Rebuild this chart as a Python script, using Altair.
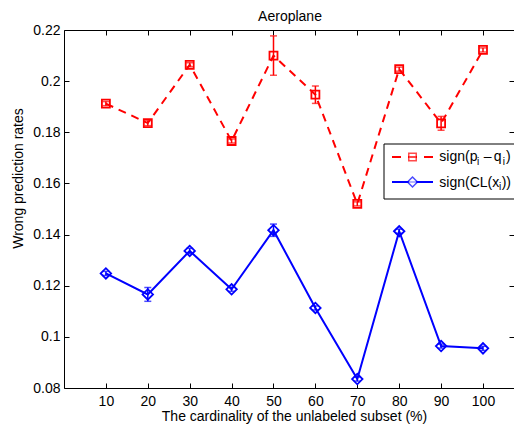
import altair as alt
import pandas as pd

# ---- data ----
subset = [10, 20, 30, 40, 50, 60, 70, 80, 90, 100]
sign_pq = [0.1912, 0.1836, 0.2064, 0.1766, 0.2100, 0.1947, 0.1520, 0.2047, 0.1835, 0.2122]
sign_pq_err = [0.0008, 0.0010, 0.0008, 0.0008, 0.0077, 0.0034, 0.0008, 0.0008, 0.0027, 0.0008]
sign_cl = [0.1248, 0.1166, 0.1336, 0.1186, 0.1417, 0.1113, 0.0835, 0.1413, 0.0964, 0.0955]
sign_cl_err = [0.0008, 0.0027, 0.0010, 0.0008, 0.0024, 0.0008, 0.0008, 0.0008, 0.0008, 0.0008]

x_ticks = [10, 20, 30, 40, 50, 60, 70, 80, 90, 100]
y_ticks = [0.08, 0.10, 0.12, 0.14, 0.16, 0.18, 0.20, 0.22]

title_text = "Aeroplane"
x_title = "The cardinality of the unlabeled subset (%)"
y_title = "Wrong prediction rates"

RED = "#ff0000"
BLUE = "#0000ff"
FONT = "Liberation Sans"
FS = 14

df_red = pd.DataFrame({
    "x": subset, "y": sign_pq,
    "lo": [v - e for v, e in zip(sign_pq, sign_pq_err)],
    "hi": [v + e for v, e in zip(sign_pq, sign_pq_err)],
})
df_blue = pd.DataFrame({
    "x": subset, "y": sign_cl,
    "lo": [v - e for v, e in zip(sign_cl, sign_cl_err)],
    "hi": [v + e for v, e in zip(sign_cl, sign_cl_err)],
})

W, H = 450, 358
xs = alt.Scale(domain=[0, 107.4], nice=False, zero=False)
ys = alt.Scale(domain=[0.08, 0.22], nice=False, zero=False)


def X(field="x", axis=None):
    return alt.X(f"{field}:Q", scale=xs, axis=axis)


def Y(field="y", axis=None):
    return alt.Y(f"{field}:Q", scale=ys, axis=axis)


# ---- axis layers (frame, labels, inward ticks) ----
frame = alt.Chart(df_red).mark_point(opacity=0).encode(
    x=X(axis=alt.Axis(orient="bottom", values=x_ticks, ticks=False, tickSize=0,
                      domain=True, domainColor="black", domainWidth=1, grid=False,
                      labelFontSize=FS, labelPadding=17, labelBaseline="alphabetic",
                      labelOverlap=False, labelFlush=False,
                      title=x_title, titleFontSize=FS, titleFontWeight="normal",
                      titleX=230, titleY=32, titleBaseline="alphabetic", titleAlign="center")),
    y=Y(axis=alt.Axis(orient="left", values=y_ticks, format="~g", ticks=False, tickSize=0,
                      domain=True, domainColor="black", domainWidth=1, grid=False,
                      labelFontSize=FS, labelPadding=4, labelOverlap=False,
                      title=y_title, titleFontSize=FS, titleFontWeight="normal",
                      titleX=-46, titleY=148, titleAngle=270,
                      titleBaseline="middle", titleAlign="center")),
)

ticks_bl = alt.Chart(df_red).mark_point(opacity=0).encode(
    x=X(axis=alt.Axis(orient="bottom", values=x_ticks, offset=-5, tickSize=5, tickColor="black",
                      labels=False, domain=False, grid=False, title="")),
    y=Y(axis=alt.Axis(orient="left", values=y_ticks, offset=-5, tickSize=5, tickColor="black",
                      labels=False, domain=False, grid=False, title="")),
)

ticks_tr = alt.Chart(df_red).mark_point(opacity=0).encode(
    x=X(axis=alt.Axis(orient="top", values=x_ticks, offset=0, ticks=False, tickSize=0,
                      labels=False, domain=True, domainColor="black", grid=False, title="")),
    y=Y(axis=alt.Axis(orient="right", values=y_ticks, offset=-5, tickSize=5, tickColor="black",
                      labels=False, domain=False, grid=False, title="")),
)

ticks_top = alt.Chart(df_red).mark_point(opacity=0).encode(
    x=X(axis=alt.Axis(orient="top", values=x_ticks, offset=-5, tickSize=5, tickColor="black",
                      labels=False, domain=False, grid=False, title="")),
    y=Y(),
)


# ---- data layers ----
def series(df, color, dash, shape, size):
    line_kw = dict(color=color, strokeWidth=2)
    if dash:
        line_kw["strokeDash"] = dash
    line = alt.Chart(df).mark_line(**line_kw).encode(x=X(), y=Y())
    err = alt.Chart(df).mark_rule(color=color, strokeWidth=1.5).encode(x=X(), y=Y("lo"), y2="hi")
    cap_lo = alt.Chart(df).mark_tick(color=color, orient="horizontal", size=7, thickness=1.5).encode(
        x=X(), y=Y("lo"))
    cap_hi = alt.Chart(df).mark_tick(color=color, orient="horizontal", size=7, thickness=1.5).encode(
        x=X(), y=Y("hi"))
    pts = alt.Chart(df).mark_point(shape=shape, size=size, filled=False, color=color,
                                   strokeWidth=1.8, opacity=1).encode(x=X(), y=Y())
    return [line, err, cap_lo, cap_hi, pts]


red_layers = series(df_red, RED, [8, 6], "square", 64)
blue_layers = series(df_blue, BLUE, None, "diamond", 110)

# ---- legend and title (drawn manually, to keep subscripts) ----
one = pd.DataFrame({"a": [0]})
box = alt.Chart(one).mark_rect(fill="white", stroke="black", strokeWidth=1).encode(
    x=alt.value(320), x2=alt.value(451), y=alt.value(114), y2=alt.value(169))

leg_red_line = alt.Chart(one).mark_rule(color=RED, strokeWidth=2, strokeDash=[9, 7]).encode(
    x=alt.value(328), x2=alt.value(369), y=alt.value(127))
leg_red_pt = alt.Chart(one).mark_point(shape="square", size=56, filled=True, fill="white",
                                       stroke=RED, strokeWidth=1.5).encode(
    x=alt.value(348.5), y=alt.value(127))
leg_red_mid = alt.Chart(one).mark_rule(color=RED, strokeWidth=1.2).encode(
    x=alt.value(345.5), x2=alt.value(351.5), y=alt.value(127))

leg_blue_line = alt.Chart(one).mark_rule(color=BLUE, strokeWidth=2).encode(
    x=alt.value(328), x2=alt.value(369), y=alt.value(152))
leg_blue_pt = alt.Chart(one).mark_point(shape="diamond", size=100, filled=True, fill="white",
                                        stroke=BLUE, strokeWidth=1.5).encode(
    x=alt.value(348.5), y=alt.value(152))


def txt(s, x, y, size=FS, align="left"):
    return alt.Chart(one).mark_text(text=s, font=FONT, fontSize=size, align=align,
                                    baseline="alphabetic", color="black").encode(
        x=alt.value(x), y=alt.value(y))


x0 = 375.3
leg_texts = [
    txt("sign(p", x0, 131),
    txt("i", x0 + 37.8, 134.5, 10),
    txt("\u2013", x0 + 44.5, 131),
    txt("q", x0 + 54.5, 131),
    txt("i", x0 + 63.5, 134.5, 10),
    txt(")", x0 + 66.6, 131),
    txt("sign(CL(x", x0, 156.5),
    txt("i", x0 + 59.7, 160, 10),
    txt("))", x0 + 62.4, 156.5),
]

title_mark = txt(title_text, 226, -9, FS, "center")

chart = alt.layer(
    frame, ticks_bl, ticks_tr, ticks_top,
    *blue_layers, *red_layers,
    box, leg_red_line, leg_red_pt, leg_red_mid, leg_blue_line, leg_blue_pt, *leg_texts,
    title_mark,
).resolve_axis(
    x="independent", y="independent"
).properties(
    width=W, height=H,
    padding={"left": 56, "top": 22, "right": 0, "bottom": 36},
    autosize=alt.AutoSizeParams(type="none"),
).configure_view(
    stroke=None
).configure_axis(
    labelFont=FONT, titleFont=FONT, labelColor="black", titleColor="black"
)

chart.save("out.html", embed_options={"renderer": "svg", "actions": False})
